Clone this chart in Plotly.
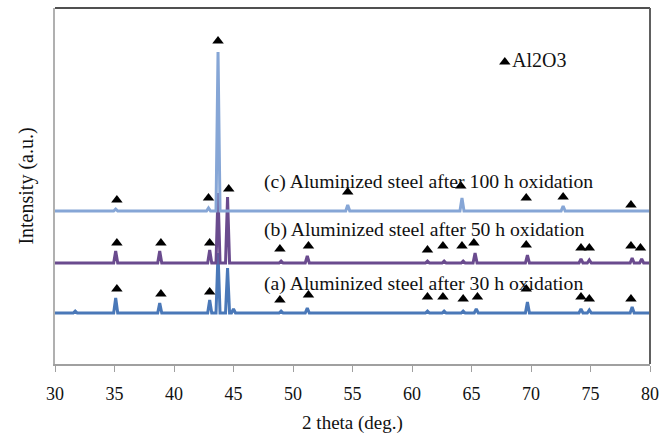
import plotly.graph_objects as go

# ---- data ----
# baselines of stacked patterns (arbitrary intensity units)
base_a, base_b, base_c = 51, 101, 153

# peaks: (2theta, height above baseline)
peaks_a_pos = [31.7, 35.1, 38.8, 43.0, 43.7, 44.5, 45.0, 49.0, 51.2, 61.3, 62.7, 64.3, 65.4, 69.7, 74.2, 74.9, 78.5]
peaks_a_h   = [2,    15,   10,   13,   60,   45,   4,    2,    5,    2,    2,    2,    4,    11,   4,    3,    6]
peaks_b_pos = [35.1, 38.8, 43.0, 43.7, 44.5, 49.0, 51.2, 61.3, 62.7, 64.3, 65.3, 69.7, 74.2, 74.9, 78.5, 79.3]
peaks_b_h   = [12,   12,   13,   70,   66,   2,    7,    2,    2,    2,    10,   8,    4,    3,    5,    4]
peaks_c_pos = [35.1, 42.9, 43.7, 54.6, 64.2, 72.7]
peaks_c_h   = [2,    3,    159,  6,    13,   5]

# Al2O3 markers (2theta, y)
mk_c_x = [35.2, 42.9, 43.7, 44.6, 54.6, 64.1, 69.6, 72.7, 78.4]
mk_c_y = [164, 166, 323, 175, 172, 178, 166, 167, 159]
mk_b_x = [35.2, 38.9, 43.0, 48.9, 51.3, 61.3, 62.6, 64.2, 65.2, 69.6, 74.2, 74.9, 78.4, 79.2]
mk_b_y = [121, 121, 121, 115, 118, 114, 118, 118, 121, 119, 116, 116, 118, 116]
mk_a_x = [35.2, 38.9, 43.0, 48.9, 51.3, 61.3, 62.6, 64.3, 65.5, 69.6, 74.2, 74.9, 78.4]
mk_a_y = [75, 70, 72, 64, 69, 67, 67, 65, 67, 75, 67, 65, 65]

labels = ["(a) Aluminized steel after 30 h oxidation",
          "(b) Aluminized steel after 50 h oxidation",
          "(c) Aluminized steel after 100 h oxidation"]
label_x = 47.5
label_y = [81, 135, 183]

x_ticks = [30, 35, 40, 45, 50, 55, 60, 65, 70, 75, 80]

W = 0.17  # peak half-width (deg)
FONT = "Liberation Serif"


def build(base, pos, h):
    xs, ys = [30.0], [base]
    for p, hh in sorted(zip(pos, h)):
        xs += [p - W, p, p + W]
        ys += [base, base + hh, base]
    xs.append(80.0)
    ys.append(base)
    return xs, ys


fig = go.Figure()
series = [
    (base_a, peaks_a_pos, peaks_a_h, "#4a78b8"),
    (base_b, peaks_b_pos, peaks_b_h, "#6a4b8e"),
    (base_c, peaks_c_pos, peaks_c_h, "#86a6d6"),
]
for base, pos, h, col in series:
    xs, ys = build(base, pos, h)
    fig.add_trace(go.Scatter(x=xs, y=ys, mode="lines",
                             line=dict(color=col, width=3), showlegend=False,
                             hoverinfo="skip"))

mx = mk_a_x + mk_b_x + mk_c_x
my = mk_a_y + mk_b_y + mk_c_y
fig.add_trace(go.Scatter(x=mx, y=my, mode="markers",
                         marker=dict(symbol="triangle-up", size=10, color="black"),
                         showlegend=False, hoverinfo="skip"))

# legend marker
fig.add_trace(go.Scatter(x=[67.8], y=[302], mode="markers+text",
                         marker=dict(symbol="triangle-up", size=10, color="black"),
                         text=["Al2O3"], textposition="middle right",
                         textfont=dict(family=FONT, size=20, color="#111"),
                         showlegend=False, hoverinfo="skip"))

for t, yy in zip(labels, label_y):
    fig.add_annotation(x=label_x, y=yy, text=t, showarrow=False, xanchor="left",
                       yanchor="middle", xshift=-1,
                       font=dict(family=FONT, size=19.7, color="#111"))

fig.update_layout(
    width=670, height=434,
    margin=dict(l=55, r=20, t=8, b=70),
    paper_bgcolor="white", plot_bgcolor="white",
    xaxis=dict(range=[30, 80], tickvals=x_ticks, showgrid=False, zeroline=False,
               automargin=False,
               showline=True, linecolor="#a0a0a0", linewidth=2,
               ticks="outside", ticklen=6, tickcolor="#a0a0a0",
               ticklabelstandoff=6,
               tickfont=dict(family=FONT, size=18, color="#111"),
               title=dict(text="2 theta (deg.)", standoff=16,
                          font=dict(family=FONT, size=19, color="#111"))),
    yaxis=dict(range=[0, 356], showticklabels=False, showgrid=False, zeroline=False,
               automargin=False,
               showline=True, linecolor="#b0b0b0", linewidth=2, ticks="",
               title=dict(text="Intensity (a.u.)", standoff=14,
                          font=dict(family=FONT, size=20, color="#111"))),
    shapes=[
        dict(type="line", xref="paper", yref="paper", x0=0, x1=1, y0=1, y1=1,
             line=dict(color="#505050", width=2)),
        dict(type="line", xref="paper", yref="paper", x0=1, x1=1, y0=0, y1=1,
             line=dict(color="#606060", width=2)),
    ],
)

fig.write_html("out.html")
